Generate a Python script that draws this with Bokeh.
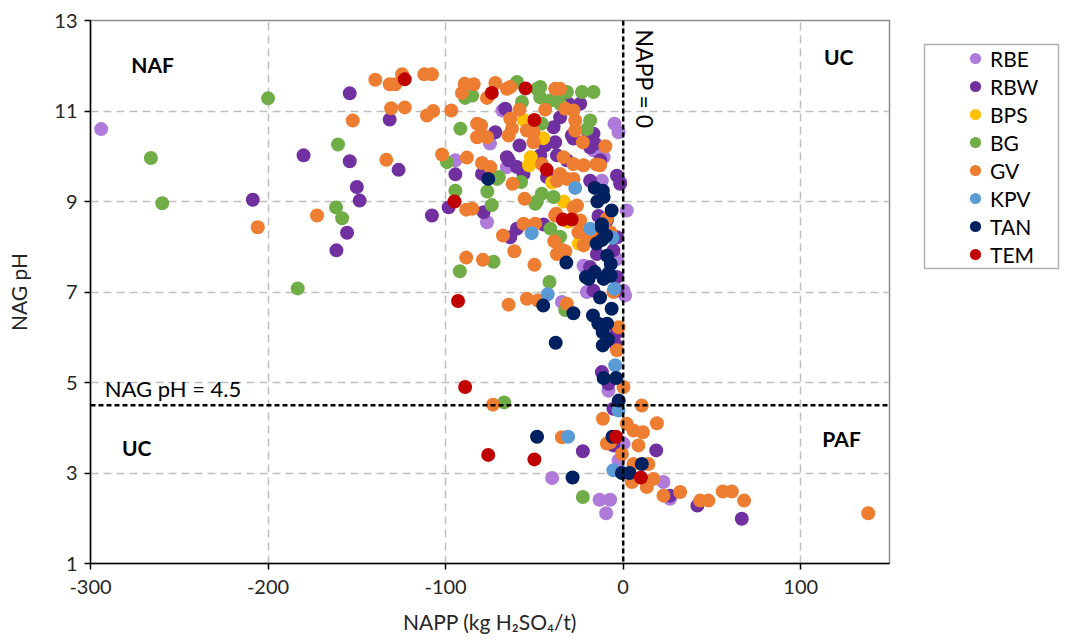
import math
from bokeh.plotting import figure
from bokeh.layouts import row
from bokeh.models import (Span, Label, Legend, LegendItem, FixedTicker, NumeralTickFormatter,
                          BoxAnnotation, Range1d)
from bokeh.embed import file_html
from bokeh.resources import INLINE

# ---------------- data ----------------
x_ticks = [-300, -200, -100, 0, 100]
y_ticks = [1, 3, 5, 7, 9, 11, 13]
groups = ["RBE", "RBW", "BPS", "BG", "GV", "KPV", "TAN", "TEM"]

rbe_x = [-294, -4.9, -68, -75, -2.6, -16.7, -11, -14, 2, -65.5, -94.5, -76.7, -40, -13.3, -7.3,
         -9.6, -8.3, 0.2, -34.5, -2.6, 22.7, 26.4, 1.1, 0.2, -1.7, -22.3, -3.5, -12, -20.4]
rbe_y = [10.6, 10.72, 11.01, 10.28, 10.53, 10.13, 9.98, 10.16, 8.8, 9.76, 9.91, 8.54, 2.89, 2.41, 2.41,
         2.11, 4.82, 3.65, 6.78, 3.28, 2.8, 2.43, 6.92, 7.03, 9.44, 7.58, 7.73, 9.46, 7.0]

rbw_x = [-154, -180, -154, -150, -148.4, -208.6, -155.5, -161.5,
         -131.5, -126.5, -94.5, -107.7, -98.3, -78.6, -79.5,
         -66.4, -65.5, -58.4, -59.8, -43.9, -39.2, -37.3, -42.9, -28.9, -35.5, -24.2, -16.7, -18.6,
         -12.9, -18.6, -1.7, -59.8, -44.8, -63.6, -14.8, -18.6, -9.2, -3.5, -5.5, -3.5, -3.5, -16.7, -13.9,
         -72, -64.5, -56.1, -38.3, -30.8, -28, -19.5, -15.8, -31.7, -46.7, -3.5,
         -22.7, 18.6, -7.7, 26.4, 41.8, 66.8, -12, -4.5, -3.5, -8.3, -5.5, -5.5]
rbw_y = [11.39, 10.02, 9.89, 9.32, 9.02, 9.04, 8.31, 7.92,
         10.81, 9.7, 9.6, 8.69, 8.87, 8.76, 9.61,
         11.05, 9.98, 10.24, 9.76, 10.24, 10.64, 10.02, 9.54, 10.46, 10.86, 11.16, 10.5, 10.2,
         9.91, 9.46, 9.39, 8.4, 8.49, 8.21, 7.84, 7.55, 8.58, 8.21, 7.92, 7.33, 7.03, 7.03, 8.68,
         10.53, 9.91, 9.61, 10.31, 11.16, 10.39, 10.5, 10.28, 9.91, 10.02, 9.57,
         3.48, 3.5, 3.65, 2.5, 2.28, 1.99, 5.23, 5.86, 6.11, 4.97, 4.42, 3.61]

bps_x = [-56, -45, -52, -53, -40, -33.5, -25, -31]
bps_y = [10.8, 10.4, 9.98, 9.8, 9.42, 9.0, 8.07, 8.55]

bg_x = [-200, -266, -259.6, -160.6, -161.7, -158.3, -183.3,
        -89, -91.7, -99.2, -94.5, -76.5, -74, -71, -57.5, -48.6, -45.8, -39.2, -41, -35.5, -73, -92, -41.5,
        -59.8, -46.7, -31.7, -23.2, -16.7, -85, -57, -46.7, -41, -35.5, -18.6, -20.4, -45.8, -70, -49.5,
        -67, -22.7, -32.6, -37.3, -48.6]
bg_y = [11.28, 9.96, 8.96, 10.26, 8.87, 8.63, 7.08,
        11.29, 10.61, 9.87, 9.24, 9.22, 8.92, 9.5, 9.43, 9.0, 9.17, 9.1, 8.4, 8.22, 7.67, 7.46, 7.22,
        11.64, 11.53, 11.42, 11.42, 11.42, 11.34, 11.2, 11.3, 11.23, 11.16, 10.79, 10.6, 10.72, 9.54, 8.95,
        4.56, 2.47, 6.6, 11.34, 11.49]

gv_x = [-139.6, -131.5, -128.3, -124.5, -112, -107.7, -130.7, -123, -110.5, -107, -96.8, -89.3, -84.2,
        -90.8, -82.3, -102, -133.4, -88, -152.3, -172.4, -205.8,
        -72, -65.5, -38.3, -35.5, -76.7, -58.4, -43.9, -32.6, -28, -27, -80, -63.6, -62.6, -64.5, -82.3,
        -76.7, -50.5, -50.5, -27, -22.7, -10, -79.5, -74.8, -62.3, -55.5, -45.8, -33.6, -28, -22.3, -15.2,
        -35.5, -28, -88.4, -37.7, -28, -24.2, -25.2, -67.7, -56.1, -49.5, -38.8, -61.3, -88.4, -79, -50,
        -37.3, -34.5, -16.7, -38.3, -32.6, -22.3, -20.4, -28.9, -26, -31.7, -37.3, -9.2, -7.3, -12.9, -85,
        -54.2, -63.6,
        -64.5, -54.2, -48, -31.7, -73.3, -34.5, -11.4, -3.5, 0.2, -0.7, 2, -9.2, 10.5, 5.8, 11.1, 19, 8.6,
        5.8, 14.2, 4.9, 13.3, 17.1, 22.7, 32.1, 43.3, 48, 56.1, 61.2, 68.1, 138, -2.6, -7.3, -5.5, -13]
gv_y = [11.69, 11.59, 11.59, 11.81, 11.81, 11.81, 11.06, 11.08, 10.9, 11.0, 11.01, 11.6, 11.59,
        11.4, 10.72, 10.04, 9.92, 9.97, 10.79, 8.69, 8.43,
        11.62, 11.49, 11.49, 11.49, 11.29, 11.03, 11.03, 11.05, 11.01, 10.79, 10.68, 10.83, 10.61, 10.46, 10.42,
        10.42, 10.53, 10.31, 10.57, 10.31, 10.22, 9.85, 9.76, 9.39, 9.06, 9.83, 9.98, 9.83, 9.8, 9.82,
        9.61, 9.5, 8.82, 8.73, 8.87, 8.58, 8.32, 8.25, 8.51, 8.51, 8.12, 7.9, 7.76, 7.71, 7.6,
        7.84, 7.93, 8.21, 8.69, 7.9, 8.03, 8.21, 8.62, 8.91, 9.5, 9.46, 8.62, 8.32, 8.14, 8.84,
        10.57, 11.53,
        6.72, 6.85, 6.81, 6.74, 4.51, 3.79, 4.2, 5.71, 4.9, 3.42, 4.09, 3.65, 4.49, 3.94, 3.9, 4.1, 3.61,
        3.2, 3.2, 2.8, 2.69, 2.87, 2.5, 2.58, 2.39, 2.39, 2.59, 2.59, 2.39, 2.11, 6.22, 3.68, 7.0, 9.8]

kpv_x = [-27, -51.5, -18.5, -6, -5, -42.5, -31, -4.5, -2.6, -5.5]
kpv_y = [9.3, 8.3, 8.4, 8.2, 7.07, 6.95, 3.8, 5.38, 4.38, 3.06]

tan_x = [-76, -16, -11, -14.5, -6.5, -12, -9.5, -15, -12, -9, -7, -32, -16, -11, -7, -19.5, -21, -45,
         -28, -38, -13, -6.5, -17, -14, -9, -11.5, -11.5, -11, -4, -2.5, -8.5, -48.5, -28.5, -6, -0.7,
         3.6, 10.5, -11.4, -12, -8.3]
tan_y = [9.5, 9.3, 9.1, 9.0, 8.8, 8.5, 8.25, 8.07, 8.15, 7.8, 7.62, 7.65, 7.44, 7.29, 7.36, 7.29, 7.33, 6.7,
         6.53, 5.88, 6.88, 6.63, 6.48, 6.3, 6.3, 6.11, 5.82, 5.1, 5.1, 4.6, 5.95, 3.8, 2.9, 3.8, 3.0,
         3.0, 3.2, 9.24, 8.43, 7.41]

tem_x = [-123, -74, -55, -50, -43, -95, -34, -29, -93, -89, -76, -50, -4, 10]
tem_y = [11.7, 11.4, 11.5, 10.8, 9.7, 9.0, 8.6, 8.6, 6.8, 4.9, 3.4, 3.3, 3.8, 2.9]

napp_zero = 0
nag_ph_limit = 4.5

colors = ["#AE7BDA", "#7030A0", "#FFC000", "#70AD47", "#ED7D31", "#5B9BD5", "#002060", "#C00000"]
series = [(rbe_x, rbe_y), (rbw_x, rbw_y), (bps_x, bps_y), (bg_x, bg_y),
          (gv_x, gv_y), (kpv_x, kpv_y), (tan_x, tan_y), (tem_x, tem_y)]

FONT = "Lato"
MARKER = 14
H = 640
TOP, BOTTOM = 20, 77

# ---------------- main plot ----------------
p = figure(width=899, height=H, x_range=(-300, 150), y_range=(1, 13),
           output_backend="svg", toolbar_location=None,
           min_border_left=90, min_border_right=10, min_border_top=TOP, min_border_bottom=BOTTOM)

p.outline_line_color = "#8c8c8c"
p.outline_line_width = 1.5
p.background_fill_color = "white"

p.xaxis.ticker = FixedTicker(ticks=x_ticks)
p.yaxis.ticker = FixedTicker(ticks=y_ticks)
p.xgrid.ticker = FixedTicker(ticks=x_ticks)
p.ygrid.ticker = FixedTicker(ticks=y_ticks)
p.xaxis.formatter = NumeralTickFormatter(format="0")
p.yaxis.formatter = NumeralTickFormatter(format="0")
for g in (p.xgrid, p.ygrid):
    g.grid_line_color = "#bfbfbf"
    g.grid_line_dash = "8 5"
    g.grid_line_width = 1.5

for ax in (p.xaxis, p.yaxis):
    ax.axis_line_color = "black"
    ax.axis_line_width = 1.5
    ax.major_tick_line_color = "black"
    ax.major_tick_line_width = 1.5
    ax.major_tick_out = 6
    ax.major_tick_in = 0
    ax.minor_tick_line_color = None
    ax.major_label_text_font = FONT
    ax.major_label_text_font_size = "20px"
    ax.major_label_text_color = "#262626"
    ax.axis_label_text_font = FONT
    ax.axis_label_text_font_size = "21px"
    ax.axis_label_text_font_style = "normal"
    ax.axis_label_text_color = "#262626"

p.xaxis.axis_label = "NAPP (kg H\u2082SO\u2084/t)"
p.yaxis.axis_label = "NAG pH"
p.xaxis.major_label_standoff = 10
p.yaxis.major_label_standoff = 7
p.xaxis.axis_label_standoff = 12
p.yaxis.axis_label_standoff = 20

for (xs, ys), c in zip(series, colors):
    p.scatter(xs, ys, size=MARKER, fill_color=c, line_color=None)

p.add_layout(Span(location=napp_zero, dimension="height", line_color="black",
                  line_dash="5 3", line_width=2.5))
p.add_layout(Span(location=nag_ph_limit, dimension="width", line_color="black",
                  line_dash="5 3", line_width=2.5))

def lab(x, y, t, bold=False, size="21px", align="center", angle=0.0):
    p.add_layout(Label(x=x, y=y, text=t, text_font=FONT, text_font_size=size,
                       text_font_style="bold" if bold else "normal", text_color="black",
                       text_align=align, text_baseline="middle", angle=angle))

lab(-265, 12.02, "NAF", bold=True)
lab(121.4, 12.21, "UC", bold=True)
lab(-274, 3.56, "UC", bold=True)
lab(123, 3.76, "PAF", bold=True)
lab(-292, 4.87, "NAG pH = 4.5", align="left", size="22px")
lab(12.2, 12.8, "NAPP = 0", align="left", size="23px", angle=-math.pi / 2)

# ---------------- legend panel (frame aligned with the main plot) ----------------
LW = 171
frame_h = H - TOP - BOTTOM
leg = figure(width=LW, height=H, x_range=Range1d(0, LW), y_range=Range1d(0, frame_h),
             x_axis_type=None, y_axis_type=None, output_backend="svg", toolbar_location=None,
             min_border_left=0, min_border_right=0, min_border_top=TOP, min_border_bottom=BOTTOM)
leg.grid.visible = False
leg.outline_line_color = None
leg.background_fill_color = "white"

# legend frame box (pixel units of this panel)
leg.add_layout(BoxAnnotation(left=25, right=159, bottom=295, top=519,
                             fill_color="white", fill_alpha=1.0,
                             line_color="black", line_width=1.5, level="underlay"))

leg_renderers = [leg.scatter(xs, ys, size=MARKER, fill_color=c, line_color=None, visible=False)
                 for (xs, ys), c in zip(series, colors)]
legend = Legend(items=[LegendItem(label=g, renderers=[r]) for g, r in zip(groups, leg_renderers)])
legend.location = (62, 295)
legend.border_line_alpha = 0
legend.background_fill_alpha = 0
legend.inactive_fill_alpha = 0
legend.padding = 0
legend.margin = 0
legend.spacing = 0
legend.glyph_height = 28
legend.glyph_width = 28
legend.label_height = 28
legend.label_standoff = 1
legend.label_text_font = FONT
legend.label_text_font_size = "21px"
legend.label_text_color = "black"
leg.add_layout(legend)

layout = row(p, leg)
open("out.html", "w").write(file_html(layout, INLINE))
